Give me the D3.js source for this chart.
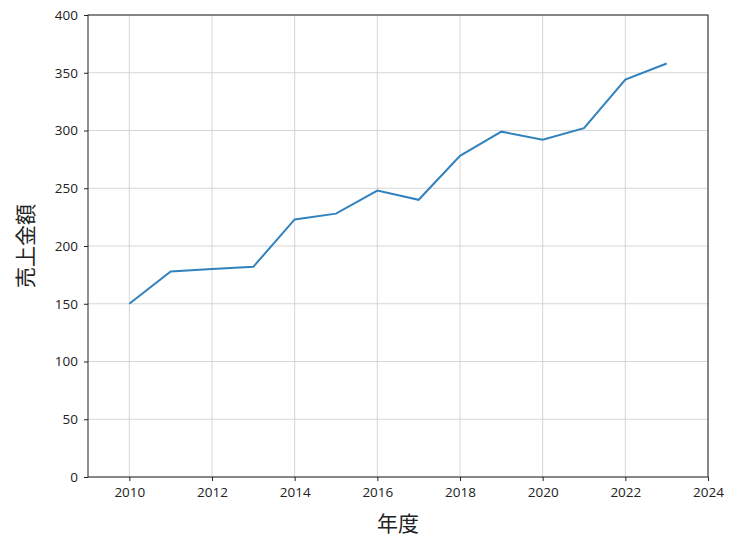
<!DOCTYPE html>
<html>
<head>
<meta charset="utf-8">
<script src="https://cdn.jsdelivr.net/npm/d3@7"></script>
<style>
  body { margin: 0; background: #fff; }
  text { font-family: "Noto Sans CJK JP", "Noto Sans", sans-serif; }
</style>
</head>
<body>
<svg id="chart" width="737" height="540"></svg>
<script>
const years = [2010, 2011, 2012, 2013, 2014, 2015, 2016, 2017, 2018, 2019, 2020, 2021, 2022, 2023];
const sales = [150, 178, 180, 182, 223, 228, 248, 240, 278, 299, 292, 302, 344, 358];
const xTicks = [2010, 2012, 2014, 2016, 2018, 2020, 2022, 2024];
const yTicks = [0, 50, 100, 150, 200, 250, 300, 350, 400];

const margin = { top: 15, right: 29, bottom: 63, left: 88 };
const width = 737 - margin.left - margin.right;
const height = 540 - margin.top - margin.bottom;

const svg = d3.select('#chart');
const g = svg.append('g').attr('transform', `translate(${margin.left},${margin.top})`);

const x = d3.scaleLinear().domain([2009, 2024]).range([0, width]);
const y = d3.scaleLinear().domain([0, 400]).range([height, 0]);

// grid
g.selectAll('.vgrid').data(xTicks).join('line')
  .attr('x1', (d) => x(d)).attr('x2', (d) => x(d))
  .attr('y1', 0).attr('y2', height)
  .attr('stroke', '#cccccc').attr('stroke-width', 0.8);
g.selectAll('.hgrid').data(yTicks).join('line')
  .attr('x1', 0).attr('x2', width)
  .attr('y1', (d) => y(d)).attr('y2', (d) => y(d))
  .attr('stroke', '#cccccc').attr('stroke-width', 0.8);

const xAxis = g.append('g').attr('transform', `translate(0,${height})`)
  .call(d3.axisBottom(x).tickValues(xTicks).tickFormat(d3.format('d')).tickSize(4).tickPadding(6));
const yAxis = g.append('g')
  .call(d3.axisLeft(y).tickValues(yTicks).tickSize(4).tickPadding(6));
[xAxis, yAxis].forEach((a) => {
  a.select('.domain').remove();
  a.selectAll('text').attr('font-size', 13.5).attr('fill', '#222')
    .style('font-family', '"Open Sans", sans-serif');
  a.selectAll('line').attr('stroke', '#222');
});

g.append('rect').attr('width', width).attr('height', height)
  .attr('fill', 'none').attr('stroke', '#222').attr('stroke-width', 1);

g.append('path').datum(years.map((yr, i) => [yr, sales[i]]))
  .attr('fill', 'none').attr('stroke', '#3182bd').attr('stroke-width', 2)
  .attr('d', d3.line().x((d) => x(d[0])).y((d) => y(d[1])));

svg.append('text').attr('x', margin.left + width / 2).attr('y', 531)
  .attr('text-anchor', 'middle').attr('font-size', 21).attr('fill', '#222').text('年度');
svg.append('text')
  .attr('transform', `translate(33,${margin.top + height / 2}) rotate(-90)`)
  .attr('text-anchor', 'middle').attr('font-size', 21).attr('fill', '#222').text('売上金額');
</script>
</body>
</html>
